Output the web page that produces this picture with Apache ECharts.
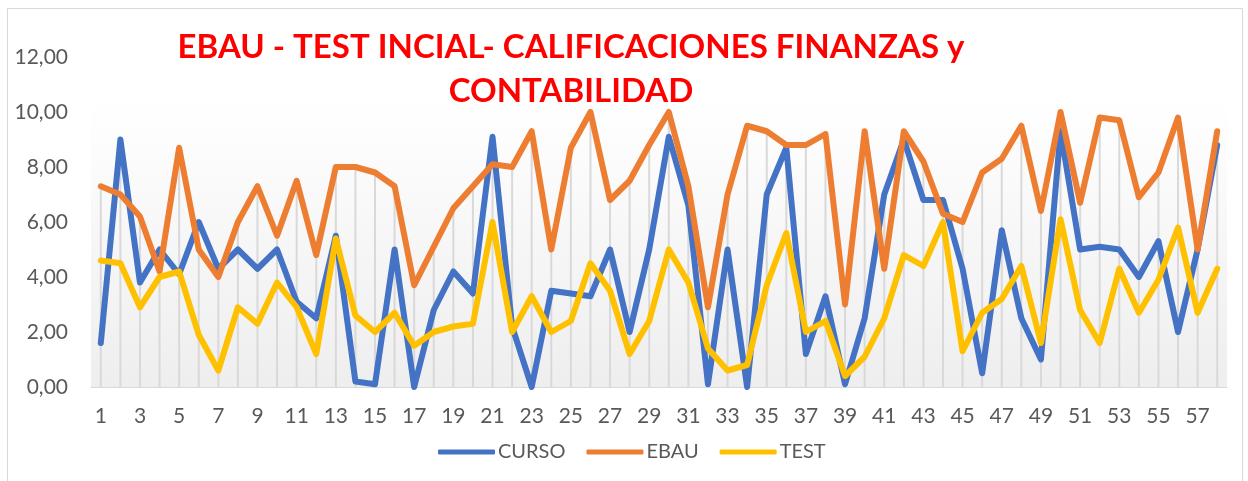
<!DOCTYPE html>
<html>
<head>
<meta charset="utf-8">
<script src="https://cdn.jsdelivr.net/npm/echarts@6/dist/echarts.min.js"></script>
<style>
  html, body { margin: 0; padding: 0; background: #fff; }
  #chart { width: 1248px; height: 481px; }
</style>
</head>
<body>
<div id="chart"></div>
<script>
// alumnos 1..58
let alumnos = [];
for (let i = 1; i <= 58; i++) alumnos.push(String(i));

let curso = [1.6, 9.0, 3.8, 5.0, 4.1, 6.0, 4.3, 5.0, 4.3, 5.0,
  3.1, 2.5, 5.5, 0.2, 0.1, 5.0, 0.0, 2.8, 4.2, 3.4,
  9.1, 2.2, 0.0, 3.5, 3.4, 3.3, 5.0, 2.0, 5.0, 9.1,
  6.6, 0.1, 5.0, 0.0, 7.0, 8.7, 1.2, 3.3, 0.1, 2.5,
  7.0, 9.0, 6.8, 6.8, 4.3, 0.5, 5.7, 2.5, 1.0, 9.3,
  5.0, 5.1, 5.0, 4.0, 5.3, 2.0, 5.0, 8.8];

let ebau = [7.3, 7.0, 6.2, 4.2, 8.7, 5.0, 4.0, 6.0, 7.3, 5.5,
  7.5, 4.8, 8.0, 8.0, 7.8, 7.3, 3.7, 5.1, 6.5, 7.3,
  8.1, 8.0, 9.3, 5.0, 8.7, 10.0, 6.8, 7.5, 8.8, 10.0,
  7.3, 2.9, 7.0, 9.5, 9.3, 8.8, 8.8, 9.2, 3.0, 9.3,
  4.3, 9.3, 8.2, 6.3, 6.0, 7.8, 8.3, 9.5, 6.4, 10.0,
  6.7, 9.8, 9.7, 6.9, 7.8, 9.8, 5.0, 9.3];

let test = [4.6, 4.5, 2.9, 4.0, 4.2, 1.9, 0.6, 2.9, 2.3, 3.8,
  2.9, 1.2, 5.4, 2.6, 2.0, 2.7, 1.5, 2.0, 2.2, 2.3,
  6.0, 2.0, 3.3, 2.0, 2.4, 4.5, 3.5, 1.2, 2.4, 5.0,
  3.8, 1.4, 0.6, 0.8, 3.7, 5.6, 2.0, 2.4, 0.4, 1.1,
  2.5, 4.8, 4.4, 6.0, 1.3, 2.7, 3.2, 4.4, 1.6, 6.1,
  2.8, 1.6, 4.3, 2.7, 3.9, 5.8, 2.7, 4.3];

// lineas de caida: hasta el valor mas alto de cada alumno
let maximos = alumnos.map((a, i) => Math.max(curso[i], ebau[i], test[i]));

let fuente = 'Lato, "Open Sans", sans-serif';
let gris = '#595959';

let chart = echarts.init(document.getElementById('chart'));

let option = {
  animation: false,
  color: ['#4472C4', '#ED7D31', '#FFC000'],
  grid: { left: 91, right: 21, top: 57, bottom: 94 },
  graphic: [
    {
      type: 'rect',
      shape: { x: 7.5, y: 8.5, width: 1235, height: 480 },
      style: { fill: 'none', stroke: '#d9d9d9', lineWidth: 1 },
      silent: true
    },
    {
      type: 'text',
      x: 571, y: 25,
      style: {
        text: 'EBAU - TEST INCIAL- CALIFICACIONES FINANZAS y\nCONTABILIDAD',
        textAlign: 'center',
        fill: '#ff0000',
        font: 'bold 33px ' + fuente,
        lineHeight: 44
      },
      z: 10
    }
  ],
  legend: {
    left: 433,
    top: 437,
    icon: 'roundRect',
    itemWidth: 57,
    itemHeight: 5,
    itemGap: 21,
    textStyle: { color: gris, fontSize: 20, fontFamily: fuente, padding: [0, 0, 0, -2] },
    data: ['CURSO', 'EBAU', 'TEST']
  },
  xAxis: {
    type: 'category',
    data: alumnos,
    boundaryGap: true,
    axisLine: { lineStyle: { color: '#d9d9d9', width: 1 } },
    axisTick: { show: false },
    axisLabel: { interval: 1, color: gris, fontSize: 21, fontFamily: fuente, margin: 19 }
  },
  yAxis: {
    type: 'value',
    min: 0,
    max: 12,
    interval: 2,
    splitLine: { show: false },
    axisLine: { show: false },
    axisTick: { show: false },
    axisLabel: {
      color: gris, fontSize: 21, fontFamily: fuente, margin: 23,
      formatter: v => v.toFixed(2).replace('.', ',')
    }
  },
  series: [
    {
      name: 'caida',
      type: 'bar',
      data: maximos,
      barWidth: 2,
      silent: true,
      itemStyle: { color: '#d9d9d9' },
      z: 1,
      markArea: {
        silent: true,
        itemStyle: {
          color: new echarts.graphic.LinearGradient(0, 0, 0, 1, [
            { offset: 0, color: '#ffffff' },
            { offset: 1, color: '#eeeeee' }
          ])
        },
        data: [[{ yAxis: 0 }, { yAxis: 10.45 }]]
      }
    },
    {
      name: 'CURSO',
      type: 'line',
      data: curso,
      showSymbol: false,
      lineStyle: { width: 6, join: 'round', cap: 'round' },
      z: 3
    },
    {
      name: 'EBAU',
      type: 'line',
      data: ebau,
      showSymbol: false,
      lineStyle: { width: 6, join: 'round', cap: 'round' },
      z: 3
    },
    {
      name: 'TEST',
      type: 'line',
      data: test,
      showSymbol: false,
      lineStyle: { width: 6, join: 'round', cap: 'round' },
      z: 3
    }
  ]
};

chart.setOption(option);
</script>
</body>
</html>
